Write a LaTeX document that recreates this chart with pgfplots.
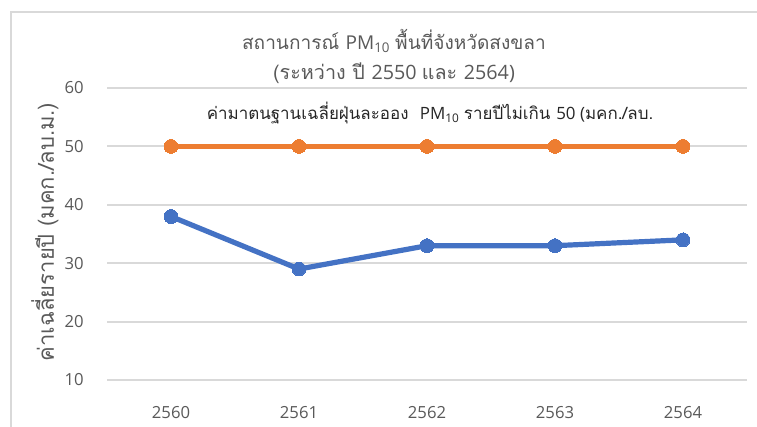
\documentclass[border=0pt]{standalone}
\usepackage{pgfplots}
\pgfplotsset{compat=1.18}
\usepackage{fontspec}
\setmainfont{Open Sans}
\newfontfamily\thai[Script=Thai]{Loma}
\definecolor{cblue}{HTML}{4472C4}
\definecolor{corange}{HTML}{ED7D31}
\definecolor{cgrid}{HTML}{D9D9D9}
\definecolor{ctext}{HTML}{595959}
\begin{document}
\begin{tikzpicture}[x=0.75pt,y=0.75pt]
\useasboundingbox (0,0) rectangle (757,426);
% chart area border
\draw[cgrid, line width=1.5pt] (11,-5) -- (11,414) -- (765,414);
\begin{axis}[
  at={(80.25pt,34.5pt)}, anchor=south west,
  scale only axis, width=480pt, height=219pt,
  xmin=-0.5, xmax=4.5, ymin=10, ymax=60,
  ytick={10,20,30,40,50,60},
  xtick={0,1,2,3,4},
  xticklabels={2560,2561,2562,2563,2564},
  axis line style={draw=none},
  major tick length=0pt,
  ymajorgrids, grid style={cgrid, line width=1.5pt},
  clip=false,
  tick label style={font=\fontsize{12.5}{14}\selectfont, text=ctext},
  /pgf/number format/assume math mode=true,
  xticklabel style={anchor=center, yshift=-24.75pt},
  yticklabel style={xshift=-14pt},
]
\addplot[corange, line width=3.9pt, mark=*, mark size=5.2pt, mark options={fill=corange, draw=corange, line width=0pt}]
  coordinates {(0,50) (1,50) (2,50) (3,50) (4,50)};
\addplot[cblue, line width=3.9pt, mark=*, mark size=5.2pt, mark options={fill=cblue, draw=cblue, line width=0pt}]
  coordinates {(0,38) (1,29) (2,33) (3,33) (4,34)};
\end{axis}
\node[text=ctext, font=\fontsize{14.3}{18}\selectfont, anchor=center] at (394,385) {\thai สถานการณ์\ \rmfamily PM\textsubscript{10} \thai พื้นที่จังหวัดสงขลา};
\node[text=ctext, font=\fontsize{14.8}{18}\selectfont, anchor=center] at (394,353) {\thai (ระหว่าง ปี \rmfamily 2550 \thai และ \rmfamily 2564)};
\node[text=black!85, font=\fontsize{12.7}{14}\selectfont, anchor=center] at (430,313) {\thai ค่ามาตนฐานเฉลี่ยฝุ่นละออง\ \ \rmfamily PM\textsubscript{10} \thai รายปีไม่เกิน \rmfamily 50 (\thai มคก./ลบ.};
\node[text=ctext, font=\fontsize{16.5}{18}\selectfont, rotate=90, anchor=center] at (45,194) {\thai ค่าเฉลี่ยรายปี (มคก./ลบ.ม.)};
\end{tikzpicture}
\end{document}
